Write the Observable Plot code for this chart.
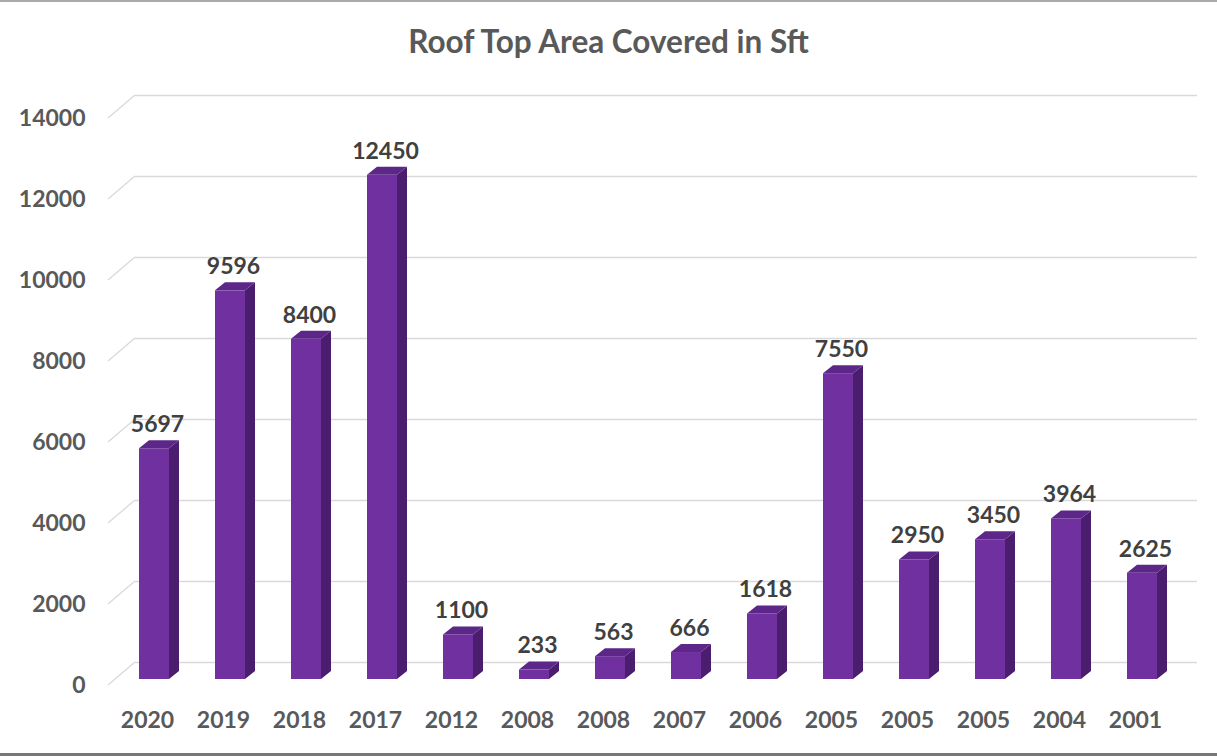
<!DOCTYPE html>
<html><head><meta charset="utf-8">
<script src="https://cdn.jsdelivr.net/npm/d3@7"></script>
<script src="https://cdn.jsdelivr.net/npm/@observablehq/plot@0.6"></script>
<style>
body{margin:0;background:#fff;font-family:Lato,"Open Sans",sans-serif;}
#wrap{width:1217px;height:756px;box-sizing:border-box;border-top:2px solid #aaa;border-bottom:3px solid #777;position:relative;overflow:hidden;}
#title{height:78px;line-height:78px;text-align:center;font-size:31.5px;font-weight:bold;color:#595959;}
</style></head>
<body><div id="wrap"><div id="title">Roof Top Area Covered in Sft</div><div id="chart"></div></div>
<script>
const years = ["2020","2019","2018","2017","2012","2008","2008","2007","2006","2005","2005","2005","2004","2001"];
const areas = [5697,9596,8400,12450,1100,233,563,666,1618,7550,2950,3450,3964,2625];
const yTicks = [0,2000,4000,6000,8000,10000,12000,14000];

const data = years.map((y,i)=>({key:i, year:y, value:areas[i]}));
const DX = 10, DY = 8;           // bar depth in px
const WX = 35, WY = 17;          // back-wall offset
const ns = "http://www.w3.org/2000/svg";

function slants(index, scales, values, dim){
  const g = document.createElementNS(ns,"g");
  for (const t of yTicks){
    const y = scales.y(t);
    const l = document.createElementNS(ns,"line");
    l.setAttribute("x1", dim.marginLeft+8); l.setAttribute("y1", y+6);
    l.setAttribute("x2", dim.marginLeft+WX); l.setAttribute("y2", y-WY);
    l.setAttribute("stroke","#d9d9d9"); l.setAttribute("stroke-width",1.3);
    g.appendChild(l);
  }
  return g;
}
function faces(index, scales, values, dim){
  const g = document.createElementNS(ns,"g");
  const bw = scales.x.bandwidth();
  const y0 = scales.y(0);
  for (const d of data){
    const x1 = scales.x(d.key), x2 = x1+bw, yt = scales.y(d.value);
    const side = document.createElementNS(ns,"polygon");
    side.setAttribute("points",`${x2},${y0} ${x2},${yt} ${x2+DX},${yt-DY} ${x2+DX},${y0-DY}`);
    side.setAttribute("fill","#4a1d6e");
    g.appendChild(side);
    const top = document.createElementNS(ns,"polygon");
    top.setAttribute("points",`${x1},${yt} ${x2},${yt} ${x2+DX},${yt-DY} ${x1+DX},${yt-DY}`);
    top.setAttribute("fill","#5c2789");
    g.appendChild(top);
  }
  return g;
}

const chart = Plot.plot({
  width:1217, height:673,
  marginLeft:100, marginRight:21, marginTop:32, marginBottom:74,
  x:{type:"band", domain:data.map(d=>d.key), paddingInner:0.6, paddingOuter:0.5},
  y:{domain:[0,14000]},
  style:{fontFamily:"Lato, 'Open Sans', sans-serif", background:"#fff"},
  marks:[
    Plot.ruleY(yTicks,{insetLeft:WX, insetRight:-1, dy:-WY, stroke:"#d9d9d9", strokeWidth:1.3}),
    slants,
    Plot.barY(data,{x:"key", y:"value", fill:"#7030a0"}),
    faces,
    Plot.text(data,{x:"key", y:"value", text:d=>String(d.value), dy:-24, dx:3, fontSize:23, fontWeight:"bold", fill:"#404040"}),
    Plot.axisY(yTicks,{tickSize:0, tickPadding:15, dy:6, label:null, tickFormat:d=>String(d), fontSize:23, fontWeight:"bold", fill:"#595959"}),
    Plot.axisX({tickSize:0, tickPadding:32, dx:-7, label:null, tickFormat:i=>years[i], fontSize:23, fontWeight:"bold", fill:"#595959"})
  ]
});
document.getElementById("chart").appendChild(chart);
</script></body></html>
